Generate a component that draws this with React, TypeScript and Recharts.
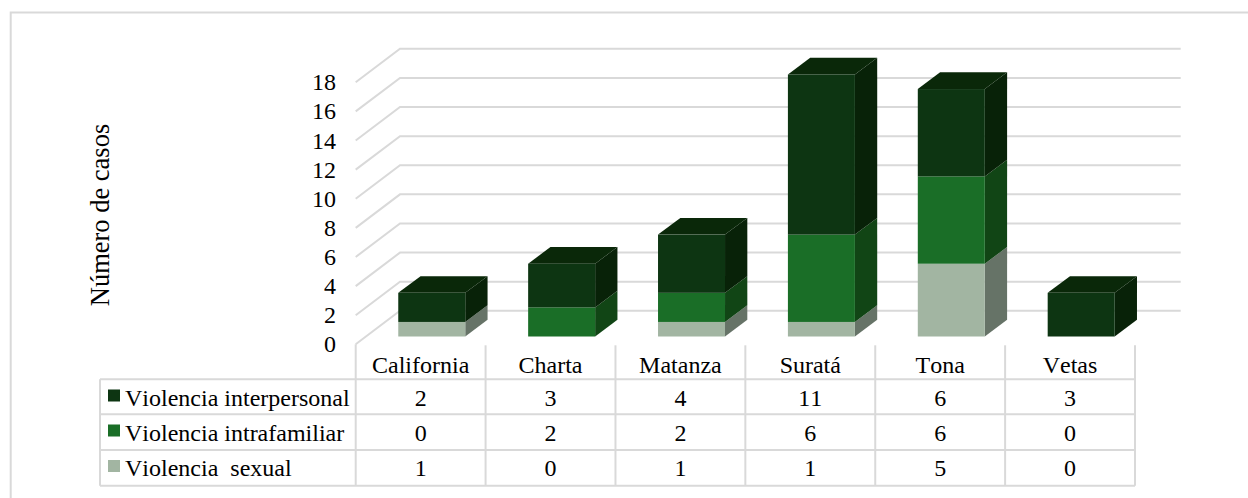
import React from 'react';
import { BarChart, Bar, XAxis, YAxis, CartesianGrid, Customized } from 'recharts';

const categories = ['California', 'Charta', 'Matanza', 'Suratá', 'Tona', 'Vetas'];
const interpersonal = [2, 3, 4, 11, 6, 3];
const intrafamiliar = [0, 2, 2, 6, 6, 0];
const sexual = [1, 0, 1, 1, 5, 0];
const yTicks = [0, 2, 4, 6, 8, 10, 12, 14, 16, 18];

const rows = [
  { name: 'Violencia interpersonal', values: interpersonal, color: '#0d3512' },
  { name: 'Violencia intrafamiliar', values: intrafamiliar, color: '#1a6e27' },
  { name: 'Violencia  sexual', values: sexual, color: '#a2b5a2' },
];

const data = categories.map((c, i) => ({
  name: c,
  interpersonal: interpersonal[i],
  intrafamiliar: intrafamiliar[i],
  sexual: sexual[i],
}));

const W = 1248;
const H = 498;
const FONT = '"Liberation Serif", "Times New Roman", serif';
const FS = 24;
const TITLE_FS = 26.5;
const GRID = '#d9d9d9';
const TXT = '#000';
const LEFT = 355.7;
const RIGHT = 1135;
const FLOOR = 344.3;
const BAND = (RIGHT - LEFT) / categories.length;
const rowLines = [379.3, 414.3, 450, 485.7];
const rowBase = [405.5, 440.5, 476];
const WALL_DX = 44.3;
const WALL_DY = 33.5;
const WALL_END = 1180.7;
const SW = 2;
const NOKERN = { fontKerning: 'none' } as any;

const makeShape = (front: string, side: string, top?: string) => (p: any) => {
  const { x, y, width, height } = p;
  if (!height || height <= 0) return <g />;
  const bx = x + 11;
  const by = y - 7.8;
  const dx = 22.3;
  const dy = 16.7;
  const r = bx + width;
  const b = by + height;
  return (
    <g>
      <polygon points={`${r},${by} ${r + dx},${by - dy} ${r + dx},${b - dy} ${r},${b}`} fill={side} />
      {top && <polygon points={`${bx},${by} ${bx + dx},${by - dy} ${r + dx},${by - dy} ${r},${by}`} fill={top} />}
      <rect x={bx} y={by} width={width} height={height} fill={front} />
    </g>
  );
};

const GridLine = (p: any) => {
  const { y1 } = p;
  return (
    <polyline
      key={`g-${y1}`}
      points={`${LEFT},${y1} ${LEFT + WALL_DX},${y1 - WALL_DY} ${WALL_END},${y1 - WALL_DY}`}
      fill="none"
      stroke={GRID}
      strokeWidth={SW}
    />
  );
};

const XTick = (p: any) => {
  const { x, payload, index } = p;
  const i = index as number;
  const right = x + BAND / 2;
  return (
    <g fontFamily={FONT} fontSize={FS} fill={TXT} textAnchor="middle" style={NOKERN}>
      <line x1={right} x2={right} y1={FLOOR + 1} y2={rowLines[3]} stroke={GRID} strokeWidth={SW} />
      <text x={x} y={373.3}>{payload.value}</text>
      {rows.map((r, k) => (
        <text key={r.name} x={x} y={rowBase[k]}>{r.values[i]}</text>
      ))}
    </g>
  );
};

const YTick = (p: any) => {
  const { y, payload } = p;
  return (
    <text x={336} y={y + 8} textAnchor="end" fontFamily={FONT} fontSize={FS} fill={TXT}>
      {payload.value}
    </text>
  );
};

const Frame = () => (
  <g fontFamily={FONT} fontSize={FS} fill={TXT} style={NOKERN}>
    <polyline points={`10.7,${H} 10.7,12.5 ${W},12.5`} fill="none" stroke={GRID} strokeWidth={SW} />
    <line x1={LEFT} x2={LEFT} y1={FLOOR} y2={rowLines[3]} stroke={GRID} strokeWidth={SW} />
    <line x1={100} x2={100} y1={rowLines[0]} y2={rowLines[3]} stroke={GRID} strokeWidth={SW} />
    {rowLines.map((y) => (
      <line key={y} x1={100} x2={RIGHT} y1={y} y2={y} stroke={GRID} strokeWidth={SW} />
    ))}
    {rows.map((r, k) => (
      <g key={r.name}>
        <rect x={108} y={rowBase[k] - 16} width={12} height={12} fill={r.color} />
        <text x={125} y={rowBase[k]} style={{ whiteSpace: 'pre' }}>{r.name}</text>
      </g>
    ))}
    <text transform="translate(109,215) rotate(-90)" textAnchor="middle" fontSize={TITLE_FS}>Número de casos</text>
  </g>
);

export default function App() {
  return (
    <div style={{ position: 'absolute', left: 0, top: 0, width: W, height: H, background: '#fff' }}>
      <BarChart
        width={W}
        height={H}
        data={data}
        margin={{ left: LEFT - 40, right: W - RIGHT, top: 82.3, bottom: H - FLOOR - 30 }}
        barCategoryGap="24.3%"
      >
        <CartesianGrid vertical={false} horizontal={GridLine as any} />
        <Customized component={Frame} />
        <XAxis dataKey="name" axisLine={false} tickLine={false} tick={XTick as any} height={30} interval={0} />
        <YAxis width={40} domain={[0, 18]} ticks={yTicks} axisLine={false} tickLine={false} tick={YTick as any} interval={0} />
        <Bar dataKey="sexual" stackId="a" isAnimationActive={false} fill="#a2b5a2" shape={makeShape('#a2b5a2', '#667367') as any} />
        <Bar dataKey="intrafamiliar" stackId="a" isAnimationActive={false} fill="#1a6e27" shape={makeShape('#1a6e27', '#114515') as any} />
        <Bar dataKey="interpersonal" stackId="a" isAnimationActive={false} fill="#0d3512" shape={makeShape('#0d3512', '#082208', '#0a2809') as any} />
      </BarChart>
    </div>
  );
}
